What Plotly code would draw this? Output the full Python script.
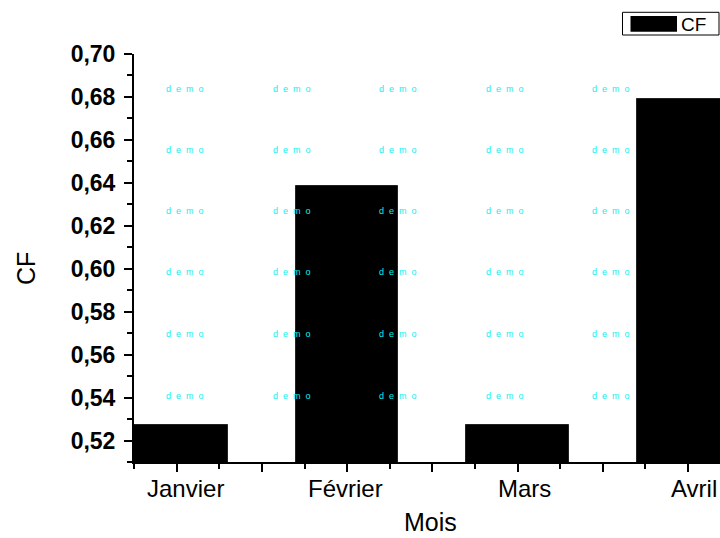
import plotly.graph_objects as go

# ---- data ----
MONTHS = ["Janvier", "Février", "Mars", "Avril"]
X_POS = [1, 2, 3, 4]
CF = [0.527, 0.6385, 0.527, 0.679]
LABEL_POS = [1.05, 1.99, 3.04, 4.035]
Y_RANGE = [0.51, 0.70]
X_RANGE = [0.75, 4.187]

# ---- layout helpers (screen pixels -> paper); body margin removed by post_script ----
W, H = 720, 538
ML, MR, MT, MB = 134, 0, 54, 76
PW, PH = W - ML - MR, H - MT - MB


def px(x):
    return (x - ML) / PW


def py(y):
    return (H - MB - y) / PH


FONT = "Arial, Liberation Sans, sans-serif"

fig = go.Figure()
fig.add_trace(go.Bar(
    x=X_POS, y=CF, width=0.6, name="CF",
    marker=dict(color="black", line=dict(color="#222222", width=1)),
    showlegend=False,
))

annotations = []
# category labels
for pos, name in zip(LABEL_POS, MONTHS):
    annotations.append(dict(x=pos, xref="x", y=py(488), yref="paper", text=name,
                            showarrow=False, xanchor="center", yanchor="middle",
                            font=dict(family=FONT, size=24, color="black")))
# axis titles
annotations.append(dict(x=px(26), y=py(269), xref="paper", yref="paper", text="CF",
                        textangle=-90, showarrow=False, xanchor="center", yanchor="middle",
                        font=dict(family=FONT, size=25, color="black")))
annotations.append(dict(x=px(430), y=py(522), xref="paper", yref="paper", text="Mois",
                        showarrow=False, xanchor="center", yanchor="middle",
                        font=dict(family=FONT, size=25, color="black")))
# legend text
annotations.append(dict(x=px(679), y=py(24), xref="paper", yref="paper", text="CF",
                        showarrow=False, xanchor="left", yanchor="middle",
                        font=dict(family=FONT, size=19, color="black")))
# watermark
WM_COLS = [185, 292, 398, 505, 611]
WM_ROWS = [89, 150, 211, 272, 334, 396]
nb = "\u00a0"
wm_text = ("d" + nb * 2 + "e" + nb * 2 + "m" + nb * 2 + "o")
for cx in WM_COLS:
    for cy in WM_ROWS:
        annotations.append(dict(x=px(cx), y=py(cy), xref="paper", yref="paper", text=wm_text,
                                showarrow=False, xanchor="center", yanchor="middle",
                                font=dict(family=FONT, size=9, color="#10f0f0")))

shapes = [
    dict(type="rect", xref="paper", yref="paper", x0=px(622.5), x1=px(719), y0=py(35), y1=py(12.3),
         line=dict(color="black", width=1), fillcolor="white"),
    dict(type="rect", xref="paper", yref="paper", x0=px(630.5), x1=px(677), y0=py(31.7), y1=py(16),
         line=dict(color="black", width=0), fillcolor="black"),
]

fig.update_layout(
    width=W, height=H,
    margin=dict(l=ML, r=MR, t=MT, b=MB),
    plot_bgcolor="white", paper_bgcolor="white",
    separators=",.",
    bargap=0,
    annotations=annotations,
    shapes=shapes,
    showlegend=False,
    xaxis=dict(
        range=X_RANGE, tickmode="linear", tick0=1, dtick=0.5,
        showticklabels=False, showgrid=False, zeroline=False,
        showline=True, linecolor="black", linewidth=2,
        ticks="outside", ticklen=8, tickwidth=2, tickcolor="black",
        minor=dict(dtick=0.25, tick0=0.25, ticks="outside", ticklen=5, tickwidth=2, tickcolor="black"),
    ),
    yaxis=dict(
        range=Y_RANGE, tickmode="linear", tick0=0.52, dtick=0.02, tickformat=".2f",
        showgrid=False, zeroline=False,
        showline=True, linecolor="black", linewidth=2,
        ticks="outside", ticklen=8, tickwidth=2, tickcolor="black",
        minor=dict(dtick=0.01, ticks="outside", ticklen=5, tickwidth=2, tickcolor="black"),
        tickfont=dict(family=FONT, size=23, color="black", weight="bold"),
        ticklabelstandoff=4,
    ),
)

fig.write_html(
    "out.html",
    config={"displayModeBar": False},
    post_script="document.body.style.margin='0';document.documentElement.style.overflow='hidden';document.body.style.overflow='hidden';",
)
